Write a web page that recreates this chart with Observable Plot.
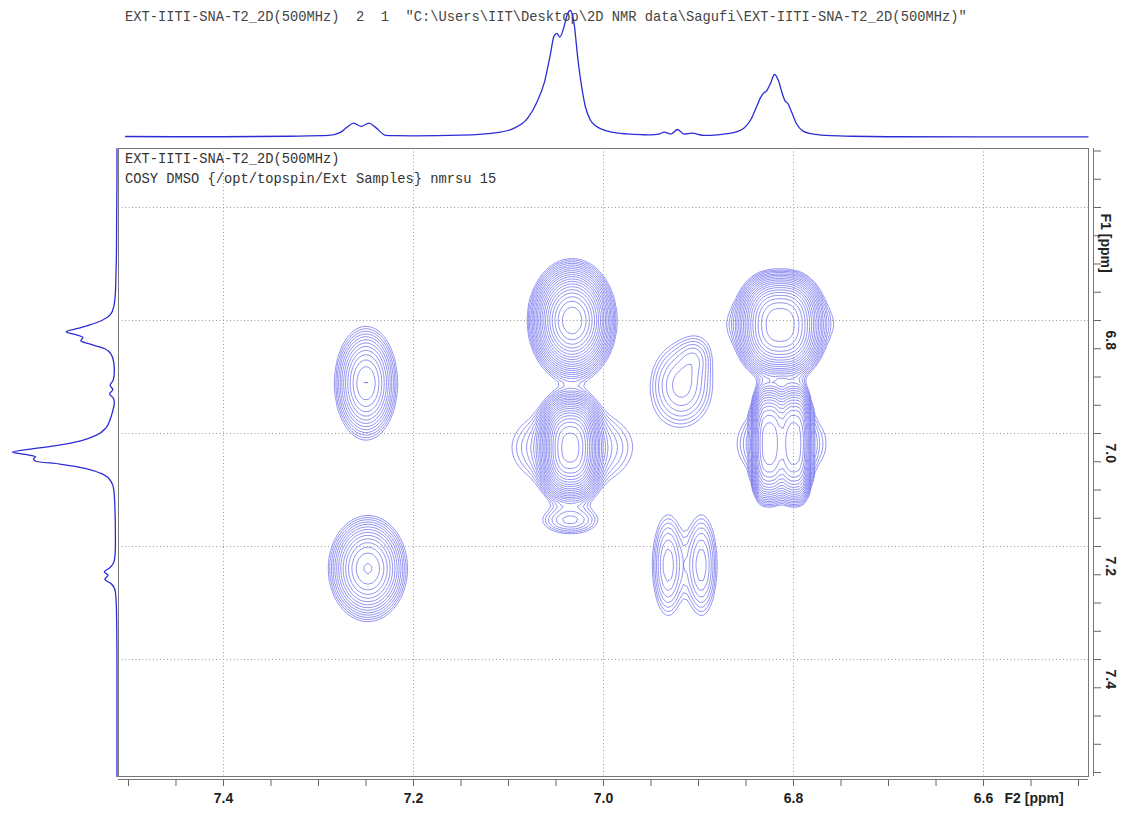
<!DOCTYPE html>
<html>
<head>
<meta charset="utf-8">
<script src="https://cdn.jsdelivr.net/npm/d3@7"></script>
<script src="https://cdn.jsdelivr.net/npm/@observablehq/plot@0.6"></script>
<style>
  body { margin: 0; background: #fff; }
  #chart { position: relative; width: 1123px; height: 814px; overflow: hidden; background: #fff; }
  #chart svg { position: absolute; left: 0; top: 0; }
  .note { position: absolute; font-family: "Liberation Mono", "DejaVu Sans Mono", monospace; font-size: 13.75px; line-height: 1; white-space: pre; color: #444; }
</style>
</head>
<body>
<div id="chart">
  <div class="note" style="left:125px;top:11px">EXT-IITI-SNA-T2_2D(500MHz)  2  1  "C:\Users\IIT\Desktop\2D NMR data\Sagufi\EXT-IITI-SNA-T2_2D(500MHz)"</div>
</div>
<script>
// ---- F2 (horizontal) 1D projection: chemical shift (ppm) and intensity (% of tallest peak)
const topPpm = [7.503, 7.45, 7.40, 7.33, 7.289, 7.277, 7.27, 7.263, 7.255, 7.247, 7.24, 7.229, 7.22, 7.20,
  7.15, 7.11, 7.095, 7.08, 7.07, 7.062, 7.056, 7.052, 7.049, 7.046, 7.042, 7.038, 7.035, 7.031, 7.027,
  7.023, 7.019, 7.014, 7.008, 7.00, 6.99, 6.975, 6.96, 6.95, 6.942, 6.936, 6.929, 6.922, 6.915, 6.907,
  6.894, 6.88, 6.87, 6.86, 6.852, 6.845, 6.839, 6.835, 6.832, 6.828, 6.824, 6.82, 6.816, 6.812, 6.809,
  6.806, 6.802, 6.797, 6.79, 6.78, 6.765, 6.74, 6.70, 6.60, 6.49];
const topInt = [0.8, 0.6, 0.6, 1.0, 1.6, 4.0, 8.0, 11.3, 8.7, 11.3, 8.0, 1.6, 1.4, 1.3,
  1.8, 4.0, 7.0, 15, 28, 44, 65, 80, 82, 79, 86, 97, 100, 90, 62,
  40, 24, 14, 9, 6, 4, 2.8, 2.2, 2.0, 2.6, 4.2, 2.8, 6.3, 2.6, 3.4,
  1.6, 2.0, 3.0, 4.5, 7.5, 14, 24, 31, 34.6, 37, 43, 49.6, 45, 35, 29,
  26.8, 20, 11, 5, 2.8, 1.6, 1.0, 0.6, 0.5, 0.5];

// ---- F1 (vertical) 1D projection
const leftPpm = [6.496, 6.55, 6.62, 6.68, 6.72, 6.75, 6.775, 6.79, 6.80, 6.808, 6.814, 6.82, 6.825, 6.83,
  6.836, 6.842, 6.85, 6.86, 6.875, 6.89, 6.905, 6.915, 6.922, 6.93, 6.937, 6.945, 6.96, 6.975, 6.99,
  7.003, 7.013, 7.022, 7.028, 7.033, 7.037, 7.041, 7.045, 7.049, 7.054, 7.062, 7.072, 7.085, 7.10,
  7.13, 7.18, 7.20, 7.225, 7.237, 7.245, 7.251, 7.258, 7.266, 7.28, 7.31, 7.40, 7.50, 7.607];
const leftInt = [0.5, 0.5, 0.8, 1.0, 1.5, 2.0, 3.5, 7, 15, 27, 38, 49, 40, 33,
  35, 26, 12, 6, 3.5, 3, 4, 7, 4.5, 7.5, 4, 3, 4.5, 7, 11,
  20, 35, 60, 85, 100, 88, 78, 80, 78, 55, 30, 14, 6, 3.5,
  2.5, 2, 2, 3, 7, 12.5, 9, 12, 6, 2, 1, 0.5, 0.5, 0.5];

// ---- 2D COSY cross/diagonal peaks: F2 shift, F1 shift, widths (ppm), height, shape exponent
const pkF2    = [7.250, 7.248, 7.033, 7.035, 7.033, 7.035, 6.814, 6.814, 6.826, 6.799, 6.8125, 6.918, 6.903, 6.932, 6.897];
const pkF1    = [6.911, 7.239, 6.800, 7.025, 7.025, 7.154, 6.808, 6.806, 7.018, 7.018, 7.018, 6.915, 6.862, 7.233, 7.233];
const pkW2    = [0.0158, 0.019, 0.0175, 0.0156, 0.040, 0.0205, 0.022, 0.045, 0.0105, 0.0105, 0.028, 0.021, 0.011, 0.0105, 0.0105];
const pkW1    = [0.048, 0.0428, 0.0406, 0.0454, 0.045, 0.0167, 0.046, 0.030, 0.062, 0.062, 0.040, 0.047, 0.022, 0.057, 0.057];
const pkAmp   = [9, 11, 38, 40, 3.5, 2.6, 30, 1.8, 18, 18, 4, 3.3, 1.2, 3.4, 3.4];
const pkShape = [2, 2, 2, 2.5, 2, 2, 2.5, 2, 3, 3, 2, 2, 2, 2, 2];

// contour levels (base level 1, factor 1.2)
const contourLevels = [1, 1.2, 1.44, 1.728, 2.074, 2.488, 2.986, 3.583, 4.300, 5.160, 6.192, 7.430,
  8.916, 10.70, 12.84, 15.41, 18.49, 22.19, 26.62, 31.95, 38.34, 46.01];

// axis ticks
const ticksF2 = [7.5, 7.45, 7.4, 7.35, 7.3, 7.25, 7.2, 7.15, 7.1, 7.05, 7.0, 6.95, 6.9, 6.85, 6.8, 6.75, 6.7, 6.65, 6.6, 6.55, 6.5];
const labelsF2 = [7.4, 7.2, 7.0, 6.8, 6.6];
const ticksF1 = [6.5, 6.55, 6.6, 6.65, 6.7, 6.75, 6.8, 6.85, 6.9, 6.95, 7.0, 7.05, 7.1, 7.15, 7.2, 7.25, 7.3, 7.35, 7.4, 7.45, 7.5, 7.55, 7.6];
const gridF1 = [6.6, 6.8, 7.0, 7.2, 7.4];
const labelsF1 = [6.8, 7.0, 7.2, 7.4];

const topTrace = topPpm.map((p, i) => ({ppm: p, i: topInt[i]}));
const leftTrace = leftPpm.map((p, i) => ({ppm: p, i: leftInt[i]}));

// sum of 2D (generalised) Gaussian peak shapes
function cosy(x, y) {
  let s = 0;
  for (let k = 0; k < pkF2.length; k++) {
    const dx = Math.abs(x - pkF2[k]) / pkW2[k];
    const dy = Math.abs(y - pkF1[k]) / pkW1[k];
    const p = pkShape[k];
    s += pkAmp[k] * Math.exp(-0.5 * (Math.pow(dx, p) + Math.pow(dy, p)));
  }
  return s;
}

const xDomain = [7.5105, 6.4895];
const yDomain = [7.607, 6.4956];
const traceColor = "#2c2cd4";
const contourColor = "#7070ee";
const labelFont = {fontFamily: "Liberation Sans, Arial, sans-serif", fontSize: 14, fontWeight: "bold", fill: "#222"};

const main = Plot.plot({
  width: 1123, height: 814,
  marginLeft: 118, marginRight: 35, marginTop: 148, marginBottom: 38,
  x: {domain: xDomain, axis: null},
  y: {domain: yDomain, axis: null},
  style: {background: "transparent", overflow: "visible"},
  marks: [
    Plot.gridX(labelsF2, {stroke: "#9a9a9a", strokeOpacity: 1, strokeDasharray: "1,2.5"}),
    Plot.gridY(gridF1, {stroke: "#9a9a9a", strokeOpacity: 1, strokeDasharray: "1,2.5"}),
    Plot.contour({value: cosy, x1: xDomain[1], x2: xDomain[0], y1: yDomain[1], y2: yDomain[0],
      thresholds: contourLevels, fill: "none", stroke: contourColor, strokeWidth: 0.75, pixelSize: 4}),
    Plot.frame({stroke: "#777"}),
    // bottom F2 axis
    Plot.ruleY([yDomain[0]], {stroke: "#777", dy: 3}),
    Plot.axisX(ticksF2, {anchor: "bottom", tickSize: 7, tickPadding: 7, dy: 3, stroke: "#666",
      tickFormat: d => labelsF2.includes(d) ? d.toFixed(1) : "", ...labelFont}),
    Plot.text(["F2 [ppm]"], {frameAnchor: "bottom-right", textAnchor: "start", lineAnchor: "top", dx: -84, dy: 17, ...labelFont}),
    // right F1 axis
    Plot.ruleX([xDomain[1]], {stroke: "#777", dx: 5}),
    Plot.axisY(ticksF1, {anchor: "right", tickSize: 7, dx: 5, stroke: "#666", tickFormat: () => ""}),
    Plot.text(labelsF1, {y: d => d, frameAnchor: "right", dx: 22, dy: 10, rotate: 90, textAnchor: "start",
      text: d => d.toFixed(1), ...labelFont}),
    Plot.text(["F1 [ppm]"], {frameAnchor: "top-right", dx: 22, dy: 65, rotate: 90, textAnchor: "start", ...labelFont})
  ]
});

const topPlot = Plot.plot({
  width: 1123, height: 814,
  marginLeft: 118, marginRight: 35, marginTop: 10, marginBottom: 677,
  x: {domain: xDomain, axis: null},
  y: {domain: [0, 100], axis: null},
  style: {background: "transparent", overflow: "visible"},
  marks: [
    Plot.line(topTrace, {x: "ppm", y: "i", stroke: traceColor, strokeWidth: 1.3, curve: "monotone-x"})
  ]
});

const leftPlot = Plot.plot({
  width: 1123, height: 814,
  marginLeft: 12, marginRight: 1006, marginTop: 148, marginBottom: 38,
  x: {domain: [100, 0], axis: null},
  y: {domain: yDomain, axis: null},
  style: {background: "transparent", overflow: "visible"},
  marks: [
    Plot.line(leftTrace, {x: "i", y: "ppm", stroke: traceColor, strokeWidth: 1.3, curve: "monotone-y"})
  ]
});

const chart = document.getElementById("chart");
chart.append(main, topPlot, leftPlot);

const info = [
  ["EXT-IITI-SNA-T2_2D(500MHz)", 153],
  ["COSY DMSO {/opt/topspin/Ext Samples} nmrsu 15", 173]
];
for (const [t, top] of info) {
  const d = document.createElement("div");
  d.className = "note";
  d.style.left = "125px";
  d.style.top = top + "px";
  d.style.color = "#333";
  d.textContent = t;
  chart.append(d);
}
</script>
</body>
</html>
